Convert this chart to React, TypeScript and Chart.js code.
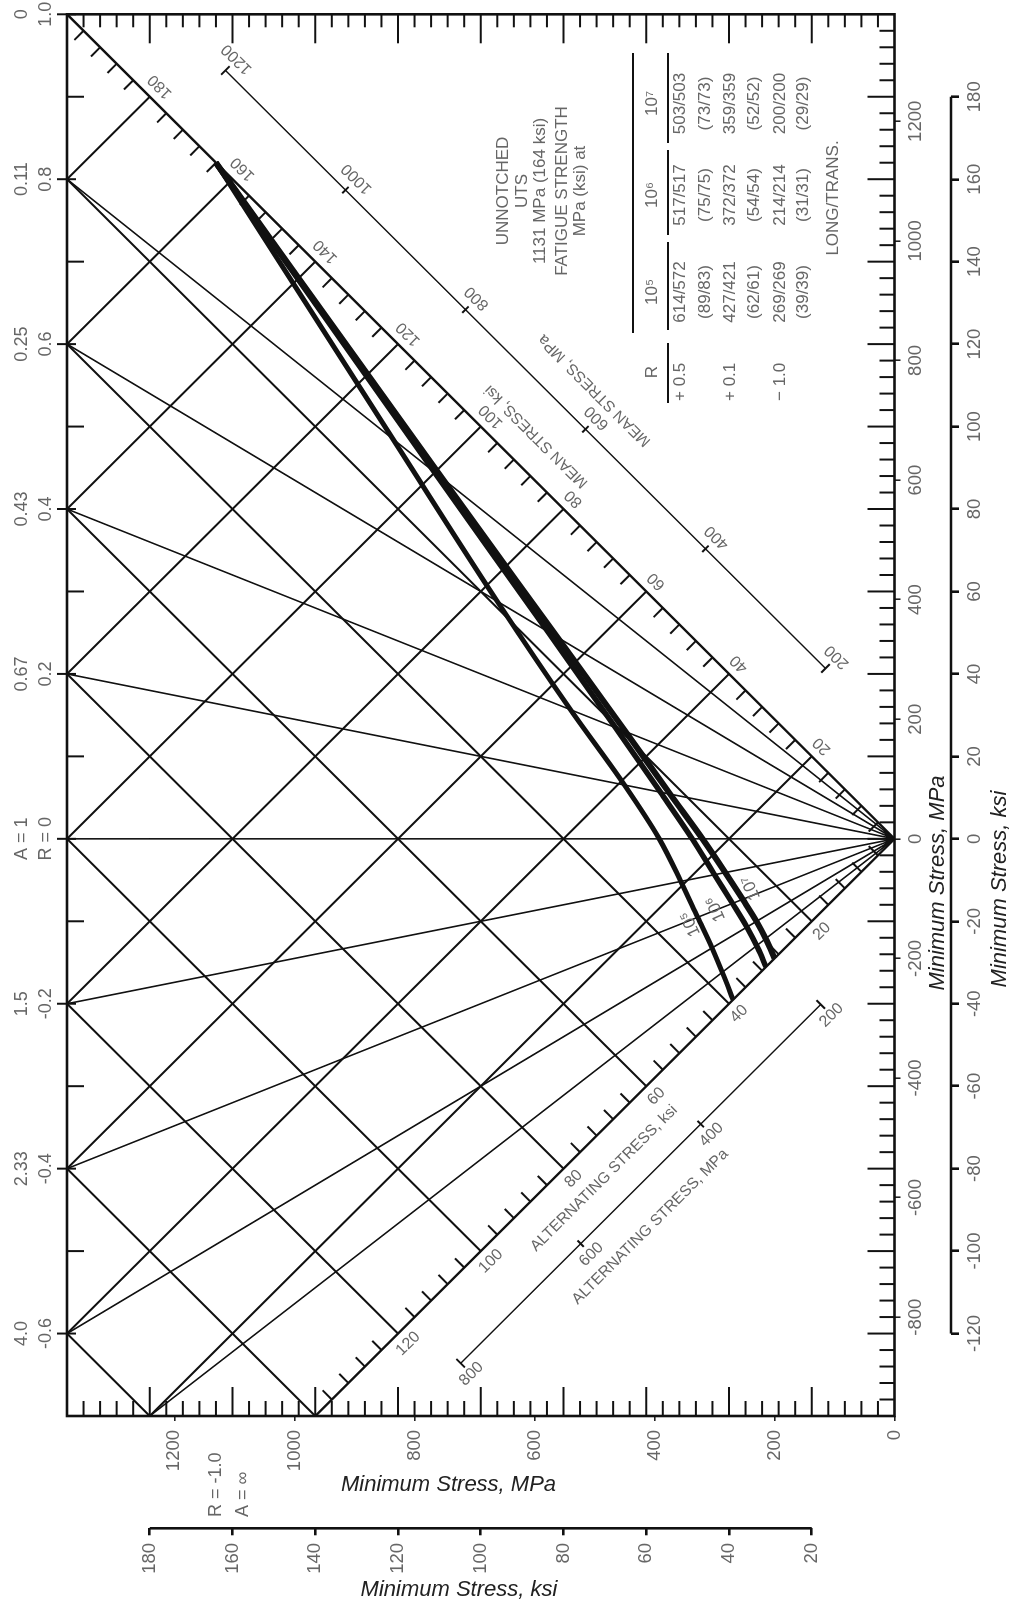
import React, { useEffect, useRef } from "react";
import { Chart, registerables } from "chart.js";

Chart.register(...registerables);

const FONT = '"Liberation Sans", Arial, Helvetica, sans-serif';
const INK = "#111111";
const GRAY = "#666666";
const DARK = "#222222";

// MPa per ksi
const KSI = 6.894757;

// Diagram extents (ksi)
const MIN_STRESS_LIMITS_KSI = [-140, 200];
const MAX_STRESS_LIMITS_KSI = [0, 200];

// Axis tick labels
const MIN_MPA_TICKS = [-800, -600, -400, -200, 0, 200, 400, 600, 800, 1000, 1200];
const MAX_MPA_TICKS = [0, 200, 400, 600, 800, 1000, 1200];
const MIN_KSI_TICKS = [-120, -100, -80, -60, -40, -20, 0, 20, 40, 60, 80, 100, 120, 140, 160, 180];
const MAX_KSI_TICKS = [20, 40, 60, 80, 100, 120, 140, 160, 180];

// Stress ratio / amplitude ratio labels along the 200 ksi edge
const RATIO_R = [1.0, 0.8, 0.6, 0.4, 0.2, 0, -0.2, -0.4, -0.6];
const RATIO_R_LABELS = ["1.0", "0.8", "0.6", "0.4", "0.2", "R = 0", "-0.2", "-0.4", "-0.6"];
const RATIO_A_LABELS = ["0", "0.11", "0.25", "0.43", "0.67", "A = 1", "1.5", "2.33", "4.0"];

// Radial (constant R) lines: end points in ksi (min, max)
const RADIAL_END_MIN_KSI = [160, 120, 80, 40, 0, -40, -80, -120, -140];
const RADIAL_END_MAX_KSI = [200, 200, 200, 200, 200, 200, 200, 200, 180];

// Constant mean / constant alternating grid (ksi)
const GRID_MEAN_KSI = [20, 40, 60, 80, 100, 120, 140, 160, 180];
const GRID_ALT_KSI = [20, 40, 60, 80, 100, 120, 140, 160];

// Diagonal axis labels
const MEAN_KSI_LABELS = [20, 40, 60, 80, 100, 120, 140, 160, 180];
const ALT_KSI_LABELS = [20, 40, 60, 80, 100, 120];
const MEAN_MPA_LABELS = [200, 400, 600, 800, 1000, 1200];
const ALT_MPA_LABELS = [200, 400, 600, 800];

// Constant-life curves: max stress (MPa) at each stress ratio R
const UTS_MPA = 1131;
const CURVE_R = [1, 0.8, 0.6, 0.4, 0.2, 0, -0.2, -0.4, -0.6, -0.8, -1];
const LIFE_1E5_MAX_MPA = [1131, 836, 662, 540, 450, 392, 356, 328, 304, 285, 269];
const LIFE_1E6_MAX_MPA = [1131, 767, 578, 465, 390, 337, 300, 270, 246, 228, 214];
const LIFE_1E7_MAX_MPA = [1131, 754, 562, 448, 374, 320, 282, 253, 230, 213, 200];
const CURVE_NAMES = ["10⁵", "10⁶", "10⁷"];

// Table
const TABLE_R = ["+ 0.5", "+ 0.1", "− 1.0"];
const TABLE_LIFE = ["10⁵", "10⁶", "10⁷"];
const TABLE_MPA = [
  ["614/572", "517/517", "503/503"],
  ["427/421", "372/372", "359/359"],
  ["269/269", "214/214", "200/200"],
];
const TABLE_KSI = [
  ["(89/83)", "(75/75)", "(73/73)"],
  ["(62/61)", "(54/54)", "(52/52)"],
  ["(39/39)", "(31/31)", "(29/29)"],
];

const MIN_LO = MIN_STRESS_LIMITS_KSI[0] * KSI;
const MIN_HI = MIN_STRESS_LIMITS_KSI[1] * KSI;
const MAX_HI = MAX_STRESS_LIMITS_KSI[1] * KSI;

function segments(list: number[][][]) {
  const out: any[] = [];
  list.forEach((s, i) => {
    if (i) out.push({ x: 0, y: null });
    s.forEach((p) => out.push({ x: p[0], y: p[1] }));
  });
  return out;
}

function buildDatasets() {
  const [kMinLo, kMinHi] = MIN_STRESS_LIMITS_KSI;
  const kMaxHi = MAX_STRESS_LIMITS_KSI[1];
  const radial = RADIAL_END_MIN_KSI.map((m, i) => [
    [0, 0],
    [m * KSI, RADIAL_END_MAX_KSI[i] * KSI],
  ]);
  const grid: number[][][] = [];
  GRID_MEAN_KSI.forEach((m) => {
    const t = Math.min(kMaxHi - m, m - kMinLo);
    grid.push([
      [m * KSI, m * KSI],
      [(m - t) * KSI, (m + t) * KSI],
    ]);
  });
  GRID_ALT_KSI.forEach((a) => {
    const s = Math.max(-a, kMinLo);
    grid.push([
      [s * KSI, (s + 2 * a) * KSI],
      [(kMaxHi - 2 * a) * KSI, kMaxHi * KSI],
    ]);
  });
  const axes = [
    [
      [0, 0],
      [kMinHi * KSI, kMaxHi * KSI],
    ],
    [
      [0, 0],
      [kMinLo * KSI, -kMinLo * KSI],
    ],
  ];
  const mFirst = MEAN_MPA_LABELS[0];
  const mLast = MEAN_MPA_LABELS[MEAN_MPA_LABELS.length - 1];
  const aFirst = ALT_MPA_LABELS[0];
  const aLast = ALT_MPA_LABELS[ALT_MPA_LABELS.length - 1];
  const mpaAxes = [
    [
      [mFirst + 85, mFirst - 85],
      [mLast + 85, mLast - 85],
    ],
    [
      [-77 - aFirst, -77 + aFirst],
      [-77 - aLast, -77 + aLast],
    ],
  ];
  const curve = (maxes: number[]) =>
    CURVE_R.map((r, i) => ({ x: r * maxes[i], y: maxes[i] })).sort((a, b) => a.x - b.x);

  const base = { showLine: true, pointRadius: 0, borderColor: INK, fill: false };
  return [
    { ...base, label: "grid", data: segments(grid), borderWidth: 2 },
    { ...base, label: "radial", data: segments(radial), borderWidth: 1.6 },
    { ...base, label: "axes", data: segments(axes), borderWidth: 2.4 },
    { ...base, label: "mpa axes", data: segments(mpaAxes), borderWidth: 1.4 },
    { ...base, label: CURVE_NAMES[0], data: curve(LIFE_1E5_MAX_MPA), borderWidth: 5, cubicInterpolationMode: "monotone" },
    { ...base, label: CURVE_NAMES[1], data: curve(LIFE_1E6_MAX_MPA), borderWidth: 5.5, cubicInterpolationMode: "monotone" },
    { ...base, label: CURVE_NAMES[2], data: curve(LIFE_1E7_MAX_MPA), borderWidth: 6, cubicInterpolationMode: "monotone" },
  ];
}

const fontStr = (size: number, style = "") => `${style} ${size}px ${FONT}`.trim();

const diagramPlugin = {
  id: "diagram",
  afterDatasetsDraw(chart: any) {
    const { ctx, chartArea: ca, scales } = chart;
    const sx = scales.x;
    const sy = scales.y;
    const P = (mn: number, mx: number) => ({ x: sx.getPixelForValue(mn), y: sy.getPixelForValue(mx) });
    const K = (mn: number, mx: number) => P(mn * KSI, mx * KSI);
    const ln = (a: any, b: any, w: number) => {
      ctx.beginPath();
      ctx.moveTo(a.x, a.y);
      ctx.lineTo(b.x, b.y);
      ctx.lineWidth = w;
      ctx.strokeStyle = INK;
      ctx.stroke();
    };
    const tx = (s: string, p: any, ang: number, size: number, color: string, style = "", align = "center") => {
      ctx.save();
      ctx.translate(p.x, p.y);
      ctx.rotate(ang);
      ctx.font = fontStr(size, style);
      ctx.fillStyle = color;
      ctx.textAlign = align;
      ctx.textBaseline = "middle";
      ctx.fillText(s, 0, 0);
      ctx.restore();
    };
    ctx.save();
    ctx.lineCap = "butt";

    // frame
    ctx.lineWidth = 2.6;
    ctx.strokeStyle = INK;
    ctx.strokeRect(ca.left, ca.top, ca.right - ca.left, ca.bottom - ca.top);

    const [kMinLo, kMinHi] = MIN_STRESS_LIMITS_KSI;
    const kMaxHi = MAX_STRESS_LIMITS_KSI[1];
    for (let v = 4; v < kMaxHi; v += 4) {
      const y = K(0, v).y;
      const major = v % 20 === 0;
      ln({ x: ca.right, y }, { x: ca.right - (major ? 29 : 13), y }, 2);
      ln({ x: ca.left, y }, { x: ca.left + (major ? 29 : 15), y }, 2);
    }
    for (let v = kMinLo + 4; v < kMinHi; v += 4) {
      const x = K(v, 0).x;
      const major = v % 20 === 0;
      ln({ x, y: ca.bottom }, { x, y: ca.bottom - (major ? 27 : 15) }, 2);
    }
    for (let v = kMinLo + 40; v < kMinHi; v += 40) {
      const x = K(v, 0).x;
      ln({ x, y: ca.top }, { x, y: ca.top + 17 }, 2);
    }
    RATIO_R.forEach((r) => {
      const x = K(r * kMaxHi, 0).x;
      ln({ x, y: ca.top - 10 }, { x, y: ca.top + 9 }, 2);
    });

    // diagonal axes ticks
    const O = K(0, 0);
    const mE = K(kMaxHi, kMaxHi);
    const aE = K(kMinLo, -kMinLo);
    const inside = K(0, kMaxHi);
    const nrm = (a: any, b: any) => {
      const dx = b.x - a.x, dy = b.y - a.y, L = Math.hypot(dx, dy);
      let nx = -dy / L, ny = dx / L;
      if ((inside.x - a.x) * nx + (inside.y - a.y) * ny < 0) { nx = -nx; ny = -ny; }
      return { nx, ny };
    };
    const nm = nrm(O, mE);
    const na = nrm(O, aE);
    for (let v = 4; v < kMaxHi; v += 4) {
      if (v % 20 === 0) continue;
      const p = K(v, v);
      ln(p, { x: p.x + nm.nx * 13, y: p.y + nm.ny * 13 }, 2);
    }
    for (let v = 4; v < -kMinLo; v += 4) {
      if (v % 20 === 0) continue;
      const p = K(-v, v);
      ln(p, { x: p.x + na.nx * 13, y: p.y + na.ny * 13 }, 2);
    }
    // MPa diagonal axes ticks
    MEAN_MPA_LABELS.forEach((m, i) => {
      const p = P(m + 85, m - 85);
      const h = i === 0 || i === MEAN_MPA_LABELS.length - 1 ? 6 : 4.5;
      ln({ x: p.x - nm.nx * h, y: p.y - nm.ny * h }, { x: p.x + nm.nx * h, y: p.y + nm.ny * h }, 2);
    });
    ALT_MPA_LABELS.forEach((a, i) => {
      const p = P(-77 - a, -77 + a);
      const h = i === 0 || i === ALT_MPA_LABELS.length - 1 ? 6 : 4.5;
      ln({ x: p.x - na.nx * h, y: p.y - na.ny * h }, { x: p.x + na.nx * h, y: p.y + na.ny * h }, 2);
    });

    // diagonal labels
    const angM = Math.atan2(mE.y - O.y, mE.x - O.x);
    const angA = Math.atan2(O.y - aE.y, O.x - aE.x);
    MEAN_KSI_LABELS.forEach((v) => {
      const m = v * KSI;
      tx(String(v), P(m + 17, m - 17), angM, 16, GRAY);
    });
    ALT_KSI_LABELS.forEach((v) => {
      const a = v * KSI;
      tx(String(v), P(-17 - a, -17 + a), angA, 16, GRAY);
    });
    MEAN_MPA_LABELS.forEach((m) => tx(String(m), P(m + 104, m - 104), angM, 16, GRAY));
    ALT_MPA_LABELS.forEach((a) => tx(String(a), P(-95 - a, -95 + a), angA, 16, GRAY));
    tx("MEAN STRESS, ksi", P(673, 597), angM, 15.5, GRAY);
    tx("MEAN STRESS, MPa", P(750, 500), angM, 15.5, GRAY);
    tx("ALTERNATING STRESS, ksi", P(-568, 484), angA, 15.5, GRAY);
    tx("ALTERNATING STRESS, MPa", P(-649, 407), angA, 15.5, GRAY);

    // curve labels
    tx(CURVE_NAMES[0], P(-142, 340), -0.44, 17, GRAY);
    tx(CURVE_NAMES[1], P(-117, 298), -0.42, 17, GRAY);
    tx(CURVE_NAMES[2], P(-82, 239), -0.4, 17, GRAY);

    // R = -1 label
    tx("R = -1.0", { x: 84, y: 216.5 }, 0, 18, GRAY, "", "left");
    tx("A = ∞", { x: 84, y: 243.5 }, 0, 18, GRAY, "", "left");

    // axis titles
    tx("Minimum Stress, MPa", { x: 718, y: 938 }, 0, 22, DARK, "italic");
    tx("Minimum Stress, ksi", { x: 712, y: 1000 }, 0, 22, DARK, "italic");
    tx("Minimum Stress, MPa", { x: 116, y: 448.5 }, Math.PI / 2, 22, DARK, "italic");
    tx("Minimum Stress, ksi", { x: 11, y: 459 }, Math.PI / 2, 22, DARK, "italic");

    // ksi axis lines
    const xk = scales.xk;
    const yk = scales.yk;
    ln({ x: xk.getPixelForValue(MIN_KSI_TICKS[0]), y: xk.top }, { x: xk.getPixelForValue(MIN_KSI_TICKS[MIN_KSI_TICKS.length - 1]), y: xk.top }, 2.6);
    ln({ x: yk.right, y: yk.getPixelForValue(MAX_KSI_TICKS[0]) }, { x: yk.right, y: yk.getPixelForValue(MAX_KSI_TICKS[MAX_KSI_TICKS.length - 1]) }, 2.6);

    // table
    const hdr = ["UNNOTCHED", "UTS", `${UTS_MPA} MPa (164 ksi)`, "FATIGUE STRENGTH", "MPa (ksi) at"];
    const hdrY = [503, 522, 540, 562, 580];
    hdr.forEach((s, i) => tx(s, { x: 1410, y: hdrY[i] }, 0, 17, GRAY));
    ln({ x: 1268, y: 633 }, { x: 1548, y: 633 }, 2);
    [[1198, 1258], [1271, 1359], [1366, 1451], [1458, 1548]].forEach((s) => ln({ x: s[0], y: 668 }, { x: s[1], y: 668 }, 2));
    const tcol = [1309, 1406, 1497.5];
    tx("R", { x: 1229, y: 652 }, 0, 17, GRAY);
    TABLE_LIFE.forEach((s, j) => tx(s, { x: tcol[j], y: 652 }, 0, 17, GRAY));
    TABLE_R.forEach((s, i) => {
      tx(s, { x: 1200, y: 680 + 50 * i }, 0, 17, GRAY, "", "left");
      TABLE_MPA[i].forEach((v, j) => tx(v, { x: tcol[j], y: 680 + 50 * i }, 0, 17, GRAY));
      TABLE_KSI[i].forEach((v, j) => tx(v, { x: tcol[j], y: 705 + 49 * i }, 0, 17, GRAY));
    });
    tx("LONG/TRANS.", { x: 1403, y: 833 }, 0, 17, GRAY);

    ctx.restore();
  },
};

const tickFont = { family: FONT, size: 18.5 };

function makeConfig(): any {
  return {
    type: "scatter",
    data: { datasets: buildDatasets() },
    options: {
      animation: false,
      responsive: false,
      devicePixelRatio: 1,
      events: [],
      layout: { autoPadding: false, padding: { left: 0, right: 14.3, top: 0, bottom: 4.4 } },
      plugins: { legend: { display: false }, tooltip: { enabled: false } },
      scales: {
        x: {
          type: "linear",
          position: "bottom",
          weight: 0,
          min: MIN_LO,
          max: MIN_HI,
          afterBuildTicks: (s: any) => { s.ticks = MIN_MPA_TICKS.map((v) => ({ value: v })); },
          afterFit: (s: any) => { s.height = 56.5; s.paddingLeft = 0; s.paddingRight = 0; },
          ticks: { autoSkip: false, maxRotation: 0, padding: 4, color: GRAY, font: tickFont, callback: (v: any) => String(v) },
          grid: { display: true, drawOnChartArea: false, drawTicks: true, tickLength: 6, color: DARK, lineWidth: 1.6 },
          border: { display: false },
        },
        xk: {
          type: "linear",
          position: "bottom",
          weight: 1,
          min: MIN_STRESS_LIMITS_KSI[0],
          max: MIN_STRESS_LIMITS_KSI[1],
          afterBuildTicks: (s: any) => { s.ticks = MIN_KSI_TICKS.map((v) => ({ value: v })); },
          afterFit: (s: any) => { s.height = 61.6; s.paddingLeft = 0; s.paddingRight = 0; },
          ticks: { autoSkip: false, maxRotation: 0, padding: 5, color: GRAY, font: tickFont, callback: (v: any) => String(v) },
          grid: { display: true, drawOnChartArea: false, drawTicks: true, tickLength: 8, color: INK, lineWidth: 2.6 },
          border: { display: false },
        },
        xr: {
          type: "linear",
          position: "top",
          min: MIN_LO,
          max: MIN_HI,
          afterBuildTicks: (s: any) => { s.ticks = RATIO_R.map((r) => ({ value: r * MAX_HI })); },
          afterFit: (s: any) => { s.height = 67; s.paddingLeft = 0; s.paddingRight = 0; },
          ticks: {
            autoSkip: false,
            maxRotation: 0,
            padding: 8.7,
            color: GRAY,
            font: { family: FONT, size: 18, lineHeight: 1.35 },
            callback: (_v: any, i: number) => [RATIO_A_LABELS[i], RATIO_R_LABELS[i]],
          },
          grid: { display: false, drawTicks: false },
          border: { display: false },
        },
        y: {
          type: "linear",
          position: "left",
          weight: 0,
          min: 0,
          max: MAX_HI,
          afterBuildTicks: (s: any) => { s.ticks = MAX_MPA_TICKS.map((v) => ({ value: v })); },
          afterFit: (s: any) => { s.width = 112.3; s.paddingTop = 0; s.paddingBottom = 0; },
          ticks: { autoSkip: false, padding: 9, color: GRAY, font: tickFont, callback: (v: any) => String(v) },
          grid: { display: true, drawOnChartArea: false, drawTicks: true, tickLength: 5, color: DARK, lineWidth: 1.6 },
          border: { display: false },
        },
        yk: {
          type: "linear",
          position: "left",
          weight: 1,
          min: MAX_STRESS_LIMITS_KSI[0],
          max: MAX_STRESS_LIMITS_KSI[1],
          afterBuildTicks: (s: any) => { s.ticks = MAX_KSI_TICKS.map((v) => ({ value: v })); },
          afterFit: (s: any) => { s.width = 72.7; s.paddingTop = 0; s.paddingBottom = 0; },
          ticks: { autoSkip: false, padding: 7.7, color: GRAY, font: tickFont, callback: (v: any) => String(v) },
          grid: { display: true, drawOnChartArea: false, drawTicks: true, tickLength: 7, color: INK, lineWidth: 2.6 },
          border: { display: false },
        },
      },
    },
    plugins: [diagramPlugin],
  };
}

export default function App() {
  const ref = useRef<HTMLCanvasElement | null>(null);
  useEffect(() => {
    Chart.defaults.font.family = FONT;
    const chart = new Chart(ref.current as HTMLCanvasElement, makeConfig());
    return () => chart.destroy();
  }, []);
  return (
    <div style={{ position: "fixed", left: 0, top: 0, width: 1017, height: 1601, overflow: "hidden", background: "#fff" }}>
      <div
        style={{
          position: "absolute",
          left: 0,
          top: 0,
          width: 1601,
          height: 1017,
          transformOrigin: "0 0",
          transform: "translate(0px, 1601px) rotate(-90deg)",
        }}
      >
        <canvas ref={ref} width={1601} height={1017} style={{ display: "block", width: 1601, height: 1017 }} />
      </div>
    </div>
  );
}
